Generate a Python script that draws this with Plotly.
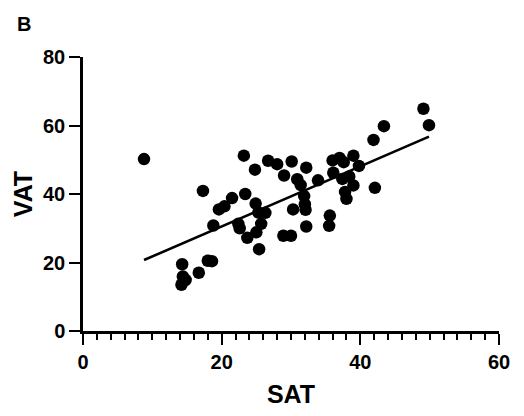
import numpy as np
import plotly.graph_objects as go

# Subcutaneous (SAT) vs visceral (VAT) adipose tissue measurements
sat = [8.8, 14.3, 14.4, 14.8, 14.2, 16.7, 18.0, 18.6, 17.3, 18.8,
       19.6, 20.4, 21.5, 22.4, 22.6, 23.2, 23.4, 23.7, 24.8, 24.9,
       25.3, 26.3, 25.0, 25.7, 25.4, 26.7, 28.0, 29.0, 30.1, 30.9,
       31.4, 32.2, 31.9, 32.0, 30.3, 32.1, 32.2, 28.9, 30.0, 33.9,
       35.6, 35.5, 36.1, 36.0, 37.0, 37.6, 39.0, 39.8, 37.4, 38.4,
       39.0, 37.8, 38.0, 42.1, 41.9, 43.4, 49.1, 49.9]
vat = [50.2, 19.5, 15.9, 14.9, 13.5, 17.0, 20.5, 20.4, 40.9, 30.8,
       35.5, 36.4, 38.8, 31.3, 30.0, 51.2, 40.0, 27.2, 47.1, 37.2,
       34.6, 34.5, 28.8, 31.3, 23.9, 49.7, 48.7, 45.4, 49.5, 44.3,
       42.6, 47.7, 39.4, 37.0, 35.5, 35.4, 30.5, 27.8, 27.8, 44.0,
       33.7, 30.7, 46.2, 49.8, 50.5, 49.3, 51.2, 48.2, 44.4, 45.1,
       42.5, 40.6, 38.6, 41.8, 55.8, 59.8, 64.9, 60.1]

x_ticks = [0, 20, 40, 60]
y_ticks = [0, 20, 40, 60, 80]

# Least-squares regression line over the observed SAT range
slope, intercept = np.polyfit(sat, vat, 1)
x_fit = np.array([min(sat), max(sat)])
y_fit = slope * x_fit + intercept

font_family = "Liberation Sans, Arial, sans-serif"

fig = go.Figure()
fig.add_trace(go.Scatter(
    x=sat, y=vat, mode="markers",
    marker=dict(color="black", size=12.5, line=dict(width=0)),
    showlegend=False, cliponaxis=False,
))
fig.add_trace(go.Scatter(
    x=x_fit, y=y_fit, mode="lines",
    line=dict(color="black", width=2.6),
    showlegend=False, cliponaxis=False,
))

axis_common = dict(
    showgrid=False, zeroline=False, showline=True,
    linecolor="black", linewidth=2.5,
    ticks="outside", ticklen=11, tickwidth=2.2, tickcolor="black",
    tickfont=dict(family=font_family, size=20, color="black", weight="bold"),
)

fig.update_layout(
    width=524, height=416,
    margin=dict(l=83, r=25, t=57, b=81),
    plot_bgcolor="white", paper_bgcolor="white",
    xaxis=dict(
        range=[0, 60], tickvals=x_ticks, anchor="y",
        minor=dict(dtick=2, ticks="outside", ticklen=6, tickwidth=2, tickcolor="black"),
        title=dict(text="SAT", standoff=14,
                   font=dict(family=font_family, size=25, color="black", weight="bold")),
        **axis_common,
    ),
    yaxis=dict(
        range=[0, 80], tickvals=y_ticks,
        title=dict(text="VAT", standoff=4,
                   font=dict(family=font_family, size=25, color="black", weight="bold")),
        **axis_common,
    ),
    annotations=[dict(
        text="B", xref="paper", yref="paper", showarrow=False,
        xanchor="left", yanchor="top",
        x=(15 - 83) / (524 - 83 - 25), y=1 + (57 - 10) / (416 - 57 - 81),
        font=dict(family=font_family, size=20, color="black", weight="bold"),
    )],
)

fig.write_html("out.html")
